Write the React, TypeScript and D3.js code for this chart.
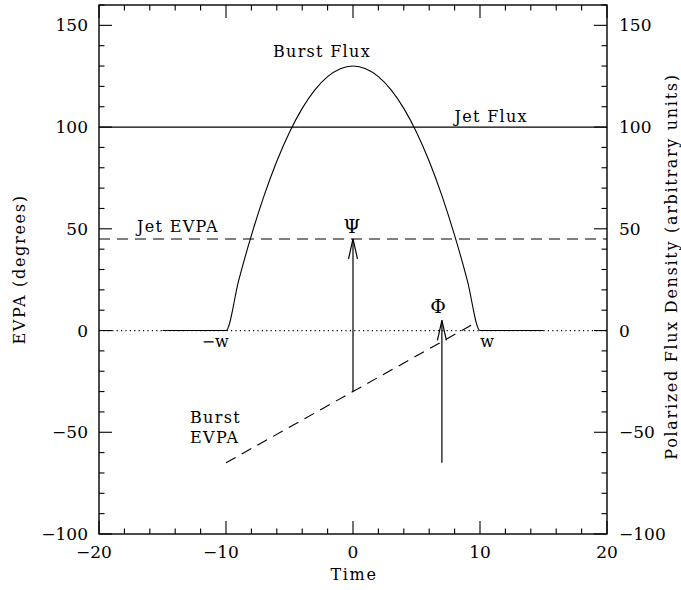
import * as React from "react"
import * as d3 from "d3"

// values
const burstFluxX = [-15, -10, -9, -8, -7, -6, -5, -4, -3, -2, -1, 0, 1, 2, 3, 4, 5, 6, 7, 8, 9, 10, 15]
const burstFluxY = [0, 0, 24.7, 46.8, 66.3, 83.2, 97.5, 109.2, 118.3, 124.8, 128.7, 130, 128.7, 124.8, 118.3, 109.2, 97.5, 83.2, 66.3, 46.8, 24.7, 0, 0]
const jetFlux = 100
const jetEvpa = 45
const burstEvpaX = [-10, 9.5]
const burstEvpaY = [-65, 3.3]
const psiArrow = { x: 0, from: -30, to: 45 }
const phiArrow = { x: 7, from: -65, to: 5 }
const xTicks = [-20, -10, 0, 10, 20]
const yTicks = [-100, -50, 0, 50, 100, 150]

const W = 681
const H = 590
const margin = { top: 5, right: 74, bottom: 56, left: 99 }
const FONT = "'DejaVu Serif', serif"

function fmt(v: number) {
  return v < 0 ? "\u2212" + Math.abs(v) : String(v)
}

export default function App(): React.JSX.Element {
  const ref = React.useRef<SVGSVGElement>(null)

  React.useEffect(() => {
    const pw = W - margin.left - margin.right
    const ph = H - margin.top - margin.bottom
    const svg = d3.select(ref.current)
    svg.selectAll("*").remove()
    const g = svg.append("g").attr("transform", `translate(${margin.left},${margin.top})`)

    const x = d3.scaleLinear().domain([-20, 20]).range([0, pw])
    const y = d3.scaleLinear().domain([-100, 160]).range([ph, 0])

    const line = d3
      .line<[number, number]>()
      .x((d) => x(d[0]))
      .y((d) => y(d[1]))

    // zero dotted line
    g.append("path")
      .attr("d", line([[-20, 0], [20, 0]]))
      .attr("stroke", "#000")
      .attr("stroke-width", 1.2)
      .attr("stroke-dasharray", "1.2,3.2")
      .attr("fill", "none")

    // jet flux
    g.append("path")
      .attr("d", line([[-20, jetFlux], [20, jetFlux]]))
      .attr("stroke", "#000")
      .attr("stroke-width", 1.1)
      .attr("fill", "none")

    // jet evpa
    g.append("path")
      .attr("d", line([[-20, jetEvpa], [20, jetEvpa]]))
      .attr("stroke", "#000")
      .attr("stroke-width", 1.1)
      .attr("stroke-dasharray", "11,7")
      .attr("fill", "none")

    // burst flux
    const bf: [number, number][] = burstFluxX.map((v, i) => [v, burstFluxY[i]])
    g.append("path")
      .attr("d", line.curve(d3.curveMonotoneX)(bf))
      .attr("stroke", "#000")
      .attr("stroke-width", 1.1)
      .attr("fill", "none")
    line.curve(d3.curveLinear)

    // burst evpa
    const be: [number, number][] = burstEvpaX.map((v, i) => [v, burstEvpaY[i]])
    g.append("path")
      .attr("d", line(be))
      .attr("stroke", "#000")
      .attr("stroke-width", 1.1)
      .attr("stroke-dasharray", "11,7")
      .attr("fill", "none")

    // arrows
    for (const a of [psiArrow, phiArrow]) {
      const ax = x(a.x)
      const ty = y(a.to)
      g.append("line")
        .attr("x1", ax).attr("x2", ax)
        .attr("y1", y(a.from)).attr("y2", ty)
        .attr("stroke", "#000").attr("stroke-width", 1.2)
      g.append("path")
        .attr("d", `M${ax - 4.5},${ty + 20}L${ax},${ty}L${ax + 4.5},${ty + 20}`)
        .attr("stroke", "#000").attr("stroke-width", 1.2).attr("fill", "none")
    }

    // frame
    g.append("rect")
      .attr("width", pw).attr("height", ph)
      .attr("fill", "none").attr("stroke", "#000").attr("stroke-width", 1.4)

    // ticks on all sides
    const tk = g.append("g").attr("stroke", "#000").attr("stroke-width", 1.1)
    d3.range(-20, 21, 2).forEach((v) => {
      const major = v % 10 === 0
      const len = major ? 13 : 5.5
      tk.append("line").attr("x1", x(v)).attr("x2", x(v)).attr("y1", ph).attr("y2", ph - len)
      tk.append("line").attr("x1", x(v)).attr("x2", x(v)).attr("y1", 0).attr("y2", len)
    })
    d3.range(-100, 161, 10).forEach((v) => {
      const major = v % 50 === 0
      const len = major ? 13 : 5.5
      tk.append("line").attr("x1", 0).attr("x2", len).attr("y1", y(v)).attr("y2", y(v))
      tk.append("line").attr("x1", pw).attr("x2", pw - len).attr("y1", y(v)).attr("y2", y(v))
    })

    // tick labels
    const lab = g.append("g").attr("font-family", FONT).attr("font-size", 17).attr("fill", "#000")
    xTicks.forEach((v) => {
      lab.append("text").attr("x", x(v) - (v < 0 ? 5 : 0)).attr("y", ph + 24)
        .attr("text-anchor", "middle").text(fmt(v))
    })
    yTicks.forEach((v) => {
      lab.append("text").attr("x", -11).attr("y", y(v) + 6)
        .attr("text-anchor", "end").text(fmt(v))
      lab.append("text").attr("x", pw + 12).attr("y", y(v) + 6)
        .attr("text-anchor", "start").text(fmt(v))
    })

    // axis titles
    const tt = g.append("g").attr("font-family", FONT).attr("font-size", 16)
      .attr("letter-spacing", 1.7).attr("fill", "#000")
    tt.append("text").attr("x", pw / 2 + 1).attr("y", ph + 46).attr("text-anchor", "middle").text("Time")
    tt.append("text")
      .attr("transform", `translate(${-74},${ph / 2}) rotate(-90)`)
      .attr("text-anchor", "middle").text("EVPA (degrees)")
    tt.append("text")
      .attr("transform", `translate(${pw + 70},${ph / 2 - 3}) rotate(-90)`)
      .attr("text-anchor", "middle").text("Polarized Flux Density (arbitrary units)")

    // annotations
    const an = g.append("g").attr("font-family", FONT).attr("font-size", 16)
      .attr("letter-spacing", 1.3).attr("fill", "#000")
    an.append("text").attr("x", x(-6.3)).attr("y", y(134.5)).text("Burst Flux")
    an.append("text").attr("x", x(8.0)).attr("y", y(102.5)).text("Jet Flux")
    an.append("text").attr("x", x(-17.0)).attr("y", y(48.5)).text("Jet EVPA")
    an.append("text").attr("x", x(-0.1)).attr("y", y(48)).attr("text-anchor", "middle")
      .attr("letter-spacing", 0).attr("font-size", 19).text("\u03A8")
    an.append("text").attr("x", x(6.7)).attr("y", y(8.6)).attr("text-anchor", "middle")
      .attr("letter-spacing", 0).attr("font-size", 19).text("\u03A6")
    an.append("text").attr("x", x(-10.85)).attr("y", y(-8)).attr("text-anchor", "middle")
      .attr("letter-spacing", 0).text("\u2212w")
    an.append("text").attr("x", x(10.55)).attr("y", y(-8)).attr("text-anchor", "middle")
      .attr("letter-spacing", 0).text("w")
    an.append("text").attr("x", x(-12.83)).attr("y", y(-45.4)).text("Burst")
    an.append("text").attr("x", x(-12.83)).attr("y", y(-55.2)).text("EVPA")
  }, [])

  return (
    <svg
      ref={ref}
      width={W}
      height={H}
      style={{ position: "absolute", left: 0, top: 0, background: "#fff" }}
    />
  )
}
